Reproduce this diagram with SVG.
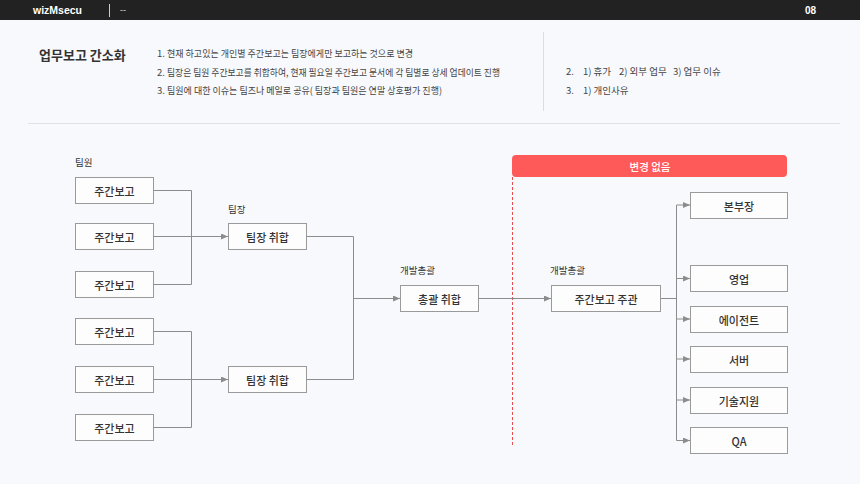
<svg xmlns="http://www.w3.org/2000/svg" width="860" height="484" viewBox="0 0 860 484">
<style>
.t{font-family:"Noto Sans CJK KR","Noto Sans",sans-serif;fill:#333;}
.box rect{fill:#fdfdfe;stroke:#9a9a9a;stroke-width:1;}
.box text{font-family:"Noto Sans CJK KR","Noto Sans",sans-serif;font-size:11px;font-weight:500;fill:#333;text-anchor:middle;dominant-baseline:central;}
.lbl{font-family:"Noto Sans CJK KR","Noto Sans",sans-serif;font-size:9.5px;fill:#333;}
.c{fill:none;stroke:#8c8c8c;stroke-width:1;}
.ca{fill:none;stroke:#8c8c8c;stroke-width:1;marker-end:url(#ah);}
.li{font-family:"Noto Sans CJK KR","Noto Sans",sans-serif;font-size:9.5px;fill:#444;}
</style>
<defs>
<marker id="ah" markerUnits="userSpaceOnUse" markerWidth="7" markerHeight="6" refX="7" refY="3" orient="auto">
<path d="M0,0 L7,3 L0,6 Z" fill="#8c8c8c"/>
</marker>
</defs>
<rect width="860" height="484" fill="#f8f9fc"/>
<g id="header">
<rect x="0" y="0" width="860" height="20" fill="#222"/>
<text x="33" y="14" font-family="'Liberation Sans',sans-serif" font-size="10.5" font-weight="bold" fill="#fff">wizMsecu</text>
<line x1="109.5" y1="4" x2="109.5" y2="17" stroke="#ccc" stroke-width="1"/>
<text x="120" y="13" font-family="'Liberation Sans',sans-serif" font-size="9" fill="#ddd">--</text>
<text x="805" y="14" font-family="'Liberation Sans',sans-serif" font-size="10" font-weight="bold" fill="#fff">08</text>
</g>
<g id="summary">
<text class="t" x="39" y="60" font-size="13" font-weight="bold" fill="#222">업무보고 간소화</text>
<text class="li" x="157" y="57">1.</text>
<text class="li" x="167" y="57" textLength="246" lengthAdjust="spacingAndGlyphs">현재 하고있는 개인별 주간보고는 팀장에게만 보고하는 것으로 변경</text>
<text class="li" x="157" y="76">2.</text>
<text class="li" x="167" y="76" textLength="333" lengthAdjust="spacingAndGlyphs">팀장은 팀원 주간보고를 취합하여, 현재 필요일 주간보고 문서에 각 팀별로 상세 업데이트 진행</text>
<text class="li" x="157" y="94">3.</text>
<text class="li" x="167" y="94" textLength="275" lengthAdjust="spacingAndGlyphs">팀원에 대한 이슈는 팀즈나 메일로 공유( 팀장과 팀원은 연말 상호평가 진행)</text>
<line x1="543.5" y1="32" x2="543.5" y2="111" stroke="#ddd" stroke-width="1"/>
<text class="li" x="566" y="75">2.</text>
<text class="li" y="75"><tspan x="583">1) 휴가</tspan><tspan x="619">2) 외부 업무</tspan><tspan x="673">3) 업무 이슈</tspan></text>
<text class="li" x="566" y="94">3.</text>
<text class="li" x="583" y="94">1) 개인사유</text>
<line x1="28" y1="123.5" x2="840" y2="123.5" stroke="#e2e2e6" stroke-width="1"/>
</g>
<g id="labels">
<text class="lbl" x="75" y="166">팀원</text>
<text class="lbl" x="228" y="213">팀장</text>
<text class="lbl" x="400" y="274">개발총괄</text>
<text class="lbl" x="550" y="274">개발총괄</text>
</g>
<g id="banner">
<rect x="512" y="155" width="275" height="22" rx="4" fill="#ff5a5a"/>
<text x="650" y="166" font-family="'Noto Sans CJK KR',sans-serif" font-size="10.5" font-weight="500" fill="#fff" text-anchor="middle" dominant-baseline="central">변경 없음</text>
<line x1="512.5" y1="177" x2="512.5" y2="446" stroke="#e84c4c" stroke-width="1" stroke-dasharray="3,2"/>
</g>
<g id="connectors">
<path class="c" d="M153,190.5 H191.5 V284.5 H153"/>
<path class="ca" d="M153,236.5 H228"/>
<path class="c" d="M153,331.5 H191.5 V427.5 H153"/>
<path class="ca" d="M153,379.5 H228"/>
<path class="c" d="M307,236.5 H353.5 V379.5 H307"/>
<path class="ca" d="M353.5,298.5 H400"/>
<path class="ca" d="M478,298.5 H551"/>
<path class="c" d="M660,298.5 H676.5"/>
<path class="c" d="M676.5,205 V440.5"/>
<path class="ca" d="M676.5,205 H690"/>
<path class="ca" d="M676.5,278.5 H690"/>
<path class="ca" d="M676.5,319 H690"/>
<path class="ca" d="M676.5,359 H690"/>
<path class="ca" d="M676.5,400 H690"/>
<path class="ca" d="M676.5,440.5 H690"/>
</g>
<g id="m1" class="box"><rect x="75.5" y="177.5" width="78" height="26"/><text x="114.5" y="190.5">주간보고</text></g>
<g id="m2" class="box"><rect x="75.5" y="223.5" width="78" height="26"/><text x="114.5" y="236.5">주간보고</text></g>
<g id="m3" class="box"><rect x="75.5" y="271.5" width="78" height="26"/><text x="114.5" y="284.5">주간보고</text></g>
<g id="m4" class="box"><rect x="75.5" y="318.5" width="78" height="26"/><text x="114.5" y="331.5">주간보고</text></g>
<g id="m5" class="box"><rect x="75.5" y="366.5" width="78" height="26"/><text x="114.5" y="379.5">주간보고</text></g>
<g id="m6" class="box"><rect x="75.5" y="414.5" width="78" height="26"/><text x="114.5" y="427.5">주간보고</text></g>
<g id="lead1" class="box"><rect x="228.5" y="223.5" width="78" height="26"/><text x="267.5" y="236.5">팀장 취합</text></g>
<g id="lead2" class="box"><rect x="228.5" y="366.5" width="78" height="26"/><text x="267.5" y="379.5">팀장 취합</text></g>
<g id="head1" class="box"><rect x="400.5" y="285.5" width="78" height="26"/><text x="439.5" y="298.5">총괄 취합</text></g>
<g id="head2" class="box"><rect x="551.5" y="285.5" width="109" height="26"/><text x="606" y="298.5">주간보고 주관</text></g>
<g id="r1" class="box"><rect x="690.5" y="192.5" width="97" height="26"/><text x="739" y="205.5">본부장</text></g>
<g id="r2" class="box"><rect x="690.5" y="265.5" width="97" height="26"/><text x="739" y="278.5">영업</text></g>
<g id="r3" class="box"><rect x="690.5" y="306.5" width="97" height="26"/><text x="739" y="319.5">에이전트</text></g>
<g id="r4" class="box"><rect x="690.5" y="346.5" width="97" height="26"/><text x="739" y="359.5">서버</text></g>
<g id="r5" class="box"><rect x="690.5" y="387.5" width="97" height="26"/><text x="739" y="400.5">기술지원</text></g>
<g id="r6" class="box"><rect x="690.5" y="427.5" width="97" height="26"/><text x="739" y="440.5">QA</text></g>
</svg>
